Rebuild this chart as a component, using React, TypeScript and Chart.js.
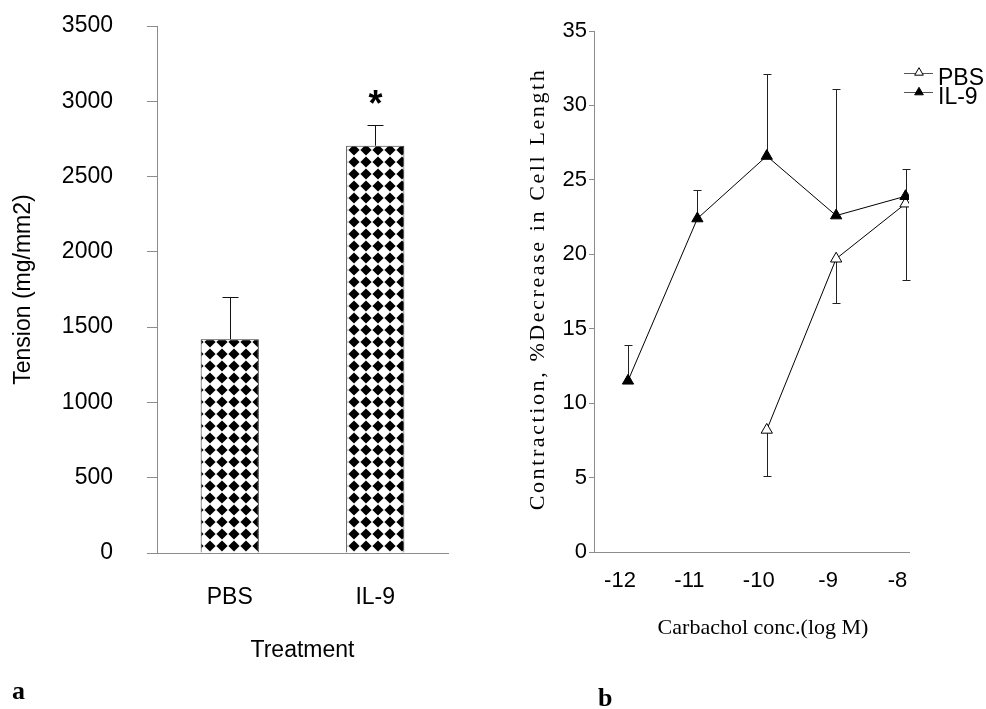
import React, { useEffect, useRef } from "react";
import { Chart, registerables } from "chart.js";

Chart.register(...registerables);

const SANS = '"Liberation Sans", Arial, sans-serif';
const SERIF = '"Liberation Serif", "Times New Roman", serif';
const AXIS = "#8c8c8c";

// ---- Panel a: tension bar chart ----
const treatments = ["PBS", "IL-9"];
const tensionMeans = [1420, 2705];
const tensionErrors = [280, 135];
const tensionMarks = ["", "*"];
const tensionTicks = [0, 500, 1000, 1500, 2000, 2500, 3000, 3500];

// ---- Panel b: contraction vs carbachol ----
const pbsConc = [-10, -9, -8];
const pbsContraction = [8.2, 19.7, 23.4];
const pbsErrors = [3.1, 3.0, 5.1];
const il9Conc = [-12, -11, -10, -9, -8];
const il9Contraction = [11.5, 22.4, 26.6, 22.6, 23.9];
const il9Errors = [2.4, 1.9, 5.5, 8.5, 1.8];
const concTicks = [-12, -11, -10, -9, -8];
const contractionTicks = [0, 5, 10, 15, 20, 25, 30, 35];

function makePattern(ctx: CanvasRenderingContext2D): CanvasPattern | string {
  const c = document.createElement("canvas");
  c.width = 12;
  c.height = 12;
  const g = c.getContext("2d");
  if (!g) return "#000";
  g.fillStyle = "#fff";
  g.fillRect(0, 0, 12, 12);
  g.fillStyle = "#000";
  g.beginPath();
  g.moveTo(6, 0.4);
  g.lineTo(11.6, 6);
  g.lineTo(6, 11.6);
  g.lineTo(0.4, 6);
  g.closePath();
  g.fill();
  return ctx.createPattern(c, "repeat") || "#000";
}

const barErrorPlugin = {
  id: "barErrors",
  afterDatasetsDraw(chart: any) {
    const { ctx } = chart;
    const y = chart.scales.y;
    const meta = chart.getDatasetMeta(0);
    ctx.save();
    ctx.strokeStyle = "#111";
    ctx.lineWidth = 1;
    tensionMeans.forEach((v, i) => {
      const px = Math.round(meta.data[i].x) + 0.5;
      const y0 = y.getPixelForValue(v);
      const y1 = Math.round(y.getPixelForValue(v + tensionErrors[i])) + 0.5;
      ctx.beginPath();
      ctx.moveTo(px, y0);
      ctx.lineTo(px, y1);
      ctx.moveTo(px - 8, y1);
      ctx.lineTo(px + 8, y1);
      ctx.stroke();
      if (tensionMarks[i]) {
        ctx.fillStyle = "#000";
        ctx.font = `bold 36px ${SANS}`;
        ctx.textAlign = "center";
        ctx.textBaseline = "alphabetic";
        ctx.fillText(tensionMarks[i], px, y1 - 10);
      }
    });
    ctx.restore();
  },
};

function drawTriangle(ctx: CanvasRenderingContext2D, x: number, y: number, r: number, fill: string) {
  ctx.beginPath();
  ctx.moveTo(x, y - r);
  ctx.lineTo(x + r * 0.866, y + r * 0.5);
  ctx.lineTo(x - r * 0.866, y + r * 0.5);
  ctx.closePath();
  ctx.fillStyle = fill;
  ctx.fill();
  ctx.strokeStyle = "#000";
  ctx.lineWidth = 1;
  ctx.stroke();
}

const pointErrorPlugin = {
  id: "pointErrors",
  beforeDatasetsDraw(chart: any) {
    const { ctx } = chart;
    const y = chart.scales.y;
    ctx.save();
    ctx.strokeStyle = "#222";
    ctx.lineWidth = 1;
    chart.data.datasets.forEach((ds: any, di: number) => {
      const meta = chart.getDatasetMeta(di);
      ds.errors.forEach((e: number, i: number) => {
        const pt = meta.data[i];
        const v = ds.data[i].y;
        const px = Math.round(pt.x) + 0.5;
        const y1 = Math.round(y.getPixelForValue(v + ds.errorDir * e)) + 0.5;
        ctx.beginPath();
        ctx.moveTo(px, pt.y);
        ctx.lineTo(px, y1);
        ctx.moveTo(px - 4, y1);
        ctx.lineTo(px + 4, y1);
        ctx.stroke();
      });
    });
    ctx.restore();
  },
  afterDraw(chart: any) {
    const { ctx } = chart;
    ctx.save();
    // y-axis title (spaced serif)
    ctx.fillStyle = "#000";
    ctx.font = `22px ${SERIF}`;
    (ctx as any).letterSpacing = "2.6px";
    ctx.textAlign = "center";
    ctx.textBaseline = "middle";
    ctx.translate(45, 289);
    ctx.rotate(-Math.PI / 2);
    ctx.fillText("Contraction, %Decrease in Cell Length", 0, 0);
    ctx.restore();

    ctx.save();
    ctx.fillStyle = "#000";
    ctx.font = `22px ${SERIF}`;
    ctx.textAlign = "center";
    ctx.textBaseline = "middle";
    ctx.fillText("Carbachol conc.(log M)", 270, 628);
    ctx.restore();

    // legend
    ctx.save();
    chart.data.datasets.forEach((ds: any, i: number) => {
      const rowY = 72.7 + i * 19.6;
      ctx.strokeStyle = "#555";
      ctx.lineWidth = 1;
      ctx.beginPath();
      ctx.moveTo(411, Math.round(rowY) + 0.5);
      ctx.lineTo(440, Math.round(rowY) + 0.5);
      ctx.stroke();
      drawTriangle(ctx, 426, rowY, 5, ds.pointBackgroundColor);
      ctx.fillStyle = "#000";
      ctx.font = `23px ${SANS}`;
      ctx.textAlign = "left";
      ctx.textBaseline = "middle";
      ctx.fillText(ds.label, 445, rowY + 5.5);
    });
    ctx.restore();
  },
};

export default function App() {
  const leftRef = useRef<HTMLCanvasElement>(null);
  const rightRef = useRef<HTMLCanvasElement>(null);

  useEffect(() => {
    const lc = leftRef.current!;
    const rc = rightRef.current!;
    const pattern = makePattern(lc.getContext("2d")!);

    const left = new Chart(lc, {
      type: "bar",
      data: {
        labels: treatments,
        datasets: [
          {
            data: tensionMeans,
            backgroundColor: pattern as any,
            borderColor: "#333",
            borderWidth: { top: 1, left: 1, right: 1, bottom: 0 } as any,
            barPercentage: 0.4,
            categoryPercentage: 1,
          },
        ],
      },
      options: {
        responsive: false,
        animation: false,
        layout: { padding: { top: 26, right: 45, left: 0, bottom: 0 } },
        plugins: { legend: { display: false }, tooltip: { enabled: false } },
        scales: {
          x: {
            grid: { display: false, drawTicks: false },
            border: { color: AXIS, width: 1 },
            ticks: { color: "#000", font: { family: SANS, size: 23 }, padding: 31 },
            title: {
              display: true,
              text: "Treatment",
              color: "#000",
              font: { family: SANS, size: 23 },
              padding: { top: 0, bottom: 45 },
            },
            afterFit: (s: any) => {
              s.height = 156;
            },
          },
          y: {
            min: 0,
            max: 3500,
            afterBuildTicks: (s: any) => {
              s.ticks = tensionTicks.map((v) => ({ value: v }));
            },
            grid: { drawOnChartArea: false, color: AXIS, tickLength: 10 },
            border: { color: AXIS },
            ticks: {
              color: "#000",
              font: { family: SANS, size: 23 },
              padding: 34,
              callback: (v: any) => String(v),
            },
            title: {
              display: true,
              text: "Tension (mg/mm2)",
              color: "#000",
              font: { family: SANS, size: 23 },
              padding: { top: 10, bottom: 0 },
            },
            afterFit: (s: any) => {
              s.width = 157;
              s.paddingTop = 14;
              s.paddingBottom = 14;
            },
          },
        },
      },
      plugins: [barErrorPlugin],
    });

    const right = new Chart(rc, {
      type: "line",
      data: {
        datasets: [
          {
            label: "PBS",
            data: pbsConc.map((x, i) => ({ x, y: pbsContraction[i] })),
            errors: pbsErrors,
            errorDir: -1,
            borderColor: "#000",
            borderWidth: 1,
            pointStyle: "triangle",
            pointRadius: 6.5,
            pointBackgroundColor: "#fff",
            pointBorderColor: "#000",
            pointBorderWidth: 1,
            tension: 0,
            fill: false,
            order: 1,
          } as any,
          {
            label: "IL-9",
            data: il9Conc.map((x, i) => ({ x, y: il9Contraction[i] })),
            errors: il9Errors,
            errorDir: 1,
            borderColor: "#000",
            borderWidth: 1,
            pointStyle: "triangle",
            pointRadius: 6.5,
            pointBackgroundColor: "#000",
            pointBorderColor: "#000",
            pointBorderWidth: 1,
            tension: 0,
            fill: false,
            order: 0,
          } as any,
        ],
      },
      options: {
        responsive: false,
        animation: false,
        layout: { padding: { top: 31, right: 77, left: 0, bottom: 0 } },
        plugins: { legend: { display: false }, tooltip: { enabled: false } },
        scales: {
          x: {
            type: "linear",
            min: -12.49,
            max: -7.95,
            afterBuildTicks: (s: any) => {
              s.ticks = concTicks.map((v) => ({ value: v }));
            },
            grid: { display: false, drawTicks: false },
            border: { color: AXIS, width: 1 },
            ticks: {
              color: "#000",
              font: { family: SANS, size: 22 },
              padding: 16,
              labelOffset: -8,
              callback: (v: any) => String(v),
            },
            afterFit: (s: any) => {
              s.height = 157;
            },
          },
          y: {
            min: 0,
            max: 35,
            afterBuildTicks: (s: any) => {
              s.ticks = contractionTicks.map((v) => ({ value: v }));
            },
            grid: { drawOnChartArea: false, color: AXIS, tickLength: 5 },
            border: { color: AXIS },
            ticks: {
              color: "#000",
              font: { family: SANS, size: 22 },
              padding: 2,
              callback: (v: any) => String(v),
            },
            afterFit: (s: any) => {
              s.width = 101;
            },
          },
        },
      },
      plugins: [pointErrorPlugin],
    });

    return () => {
      left.destroy();
      right.destroy();
    };
  }, []);

  return (
    <div
      style={{
        position: "absolute",
        left: 0,
        top: 0,
        width: 986,
        height: 709,
        background: "#fff",
        overflow: "hidden",
      }}
    >
      <canvas
        ref={leftRef}
        width={493}
        height={709}
        style={{ position: "absolute", left: 0, top: 0, width: 493, height: 709 }}
      />
      <canvas
        ref={rightRef}
        width={493}
        height={709}
        style={{ position: "absolute", left: 493, top: 0, width: 493, height: 709 }}
      />
      <div
        style={{
          position: "absolute",
          left: 12,
          top: 678,
          font: `bold 26px ${SERIF}`,
          lineHeight: "26px",
          color: "#000",
        }}
      >
        a
      </div>
      <div
        style={{
          position: "absolute",
          left: 598,
          top: 685,
          font: `bold 26px ${SERIF}`,
          lineHeight: "26px",
          color: "#000",
        }}
      >
        b
      </div>
    </div>
  );
}
